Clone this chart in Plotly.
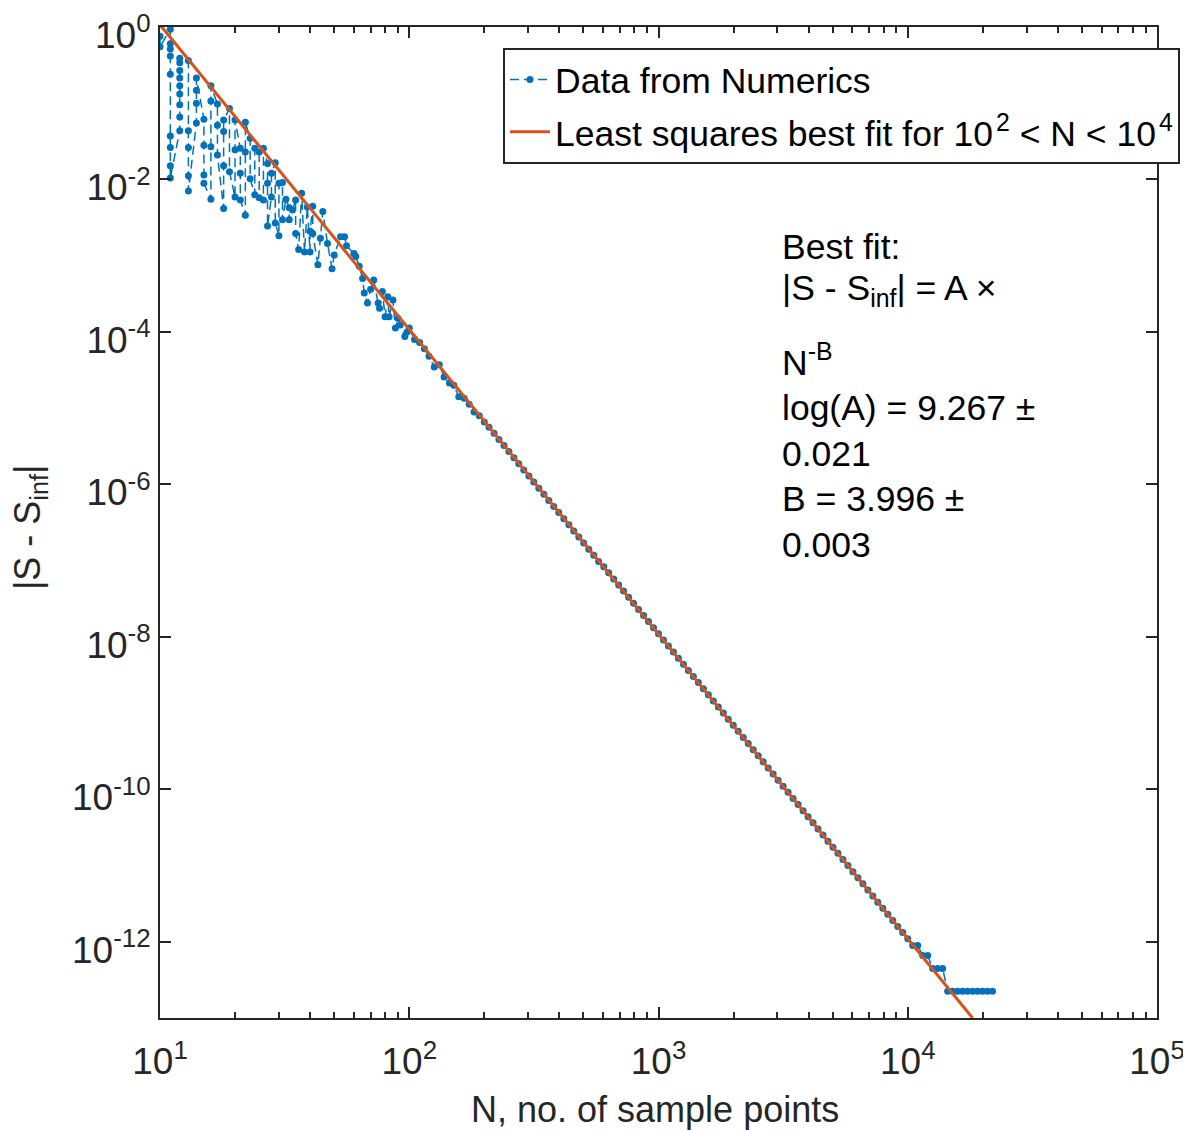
import numpy as np
import plotly.graph_objects as go

# ------------------------------- Data ------------------------------- #
# noisy region, several samples per N (log10 of |S - S_inf|)
n_noisy = [10, 10,
           11, 11, 11, 11, 11, 11, 11, 11, 11,
           12, 12, 12, 12, 12, 12, 12, 12, 12,
           13, 13, 13, 13, 13,
           14, 14, 14, 14,
           15, 15, 15, 15,
           16, 16, 16, 16,
           17, 17, 17,
           18, 18, 18, 18,
           19, 19,
           20, 20, 20,
           21, 21, 21,
           22, 22, 22,
           23, 23, 24, 24, 25, 25, 26, 26,
           27, 27, 27, 28, 28, 29, 29, 30, 30, 31, 31,
           32, 33, 33, 34, 35, 35, 36, 37, 38, 39, 40, 40, 41, 41,
           43, 44, 45, 47, 49, 50, 53, 55, 56, 60, 61, 63, 65, 66, 68,
           70, 72, 75, 76, 78, 80, 82, 83, 86, 88, 90, 92, 96, 98]
log_err_noisy = [-0.12, -0.26,
                 -0.03, -0.22, -0.29, -0.38, -0.62, -1.43, -1.58, -1.82, -1.98,
                 -1.36, -1.18, -1.02, -0.88, -0.77, -0.67, -0.57, -0.47, -0.41,
                 -0.44, -1.36, -1.58, -1.95, -2.15,
                 -1.26, -1.00, -0.83, -0.67,
                 -1.21, -1.55, -1.94, -2.05,
                 -2.26, -1.57, -0.97, -0.77,
                 -1.01, -1.29, -1.68,
                 -2.38, -1.82, -1.37, -1.22,
                 -1.07, -1.90,
                 -2.23, -1.61, -1.22,
                 -1.59, -1.92, -2.27,
                 -2.47, -1.64, -1.25,
                 -1.46, -1.99, -2.20, -1.59, -1.64, -2.24, -2.27, -1.59,
                 -1.79, -2.05, -2.61, -2.23, -1.92, -1.78, -2.57, -2.74, -2.05, -2.04, -2.53,
                 -2.26, -2.37, -2.53, -2.40, -2.27, -2.71, -2.92, -2.18, -2.95, -2.36, -2.95, -2.68, -2.35, -2.71,
                 -3.12, -2.77, -2.42, -2.84, -3.17, -2.99, -2.75, -2.75, -2.87, -2.97, -3.01, -3.14, -3.30, -3.49, -3.62,
                 -3.44, -3.32, -3.62, -3.69, -3.47, -3.80, -3.54, -3.80, -3.58, -3.95, -3.82, -3.91, -4.06, -4.00]

# asymptotic region, close to the N^-4 law
n_asym = [100, 105, 110, 115, 120, 126, 132, 138, 145, 151,
          158, 166, 174, 182, 191, 200, 209, 219, 229, 240,
          251, 263, 275, 288, 302, 316, 331, 347, 363, 380,
          398, 417, 437, 457, 479, 501, 525, 550, 575, 603,
          631, 661, 692, 724, 759, 794, 832, 871, 912, 955,
          1000, 1047, 1096, 1148, 1202, 1259, 1318, 1380, 1445, 1514,
          1585, 1660, 1738, 1820, 1905, 1995, 2089, 2188, 2291, 2399,
          2512, 2630, 2754, 2884, 3020, 3162, 3311, 3467, 3631, 3802,
          3981, 4169, 4365, 4571, 4786, 5012, 5248, 5495, 5754, 6026,
          6310, 6607, 6918, 7244, 7586, 7943, 8318, 8710, 9120, 9550,
          10000, 10471, 10965, 11482, 12023, 12589, 13183, 13804]
log_err_asym = [-3.95, -4.10, -4.14, -4.22, -4.32, -4.46, -4.43, -4.59, -4.67, -4.70,
                -4.85, -4.87, -4.95, -5.05, -5.10, -5.18, -5.25, -5.33, -5.41, -5.49,
                -5.57, -5.65, -5.73, -5.81, -5.89, -5.97, -6.05, -6.13, -6.21, -6.29,
                -6.37, -6.45, -6.53, -6.61, -6.69, -6.77, -6.85, -6.93, -7.01, -7.08,
                -7.16, -7.24, -7.32, -7.40, -7.48, -7.56, -7.64, -7.72, -7.80, -7.88,
                -7.96, -8.04, -8.12, -8.20, -8.28, -8.36, -8.44, -8.52, -8.60, -8.68,
                -8.76, -8.84, -8.92, -9.00, -9.08, -9.16, -9.24, -9.32, -9.40, -9.48,
                -9.56, -9.64, -9.72, -9.80, -9.88, -9.96, -10.04, -10.12, -10.20, -10.28,
                -10.36, -10.44, -10.52, -10.60, -10.68, -10.76, -10.84, -10.92, -11.00, -11.08,
                -11.16, -11.24, -11.32, -11.40, -11.48, -11.56, -11.64, -11.72, -11.80, -11.88,
                -11.96, -12.05, -12.05, -12.18, -12.18, -12.35, -12.35, -12.35]

# round-off floor
n_floor = [14454, 15136, 15849, 16596, 17378, 18197, 19055, 19953, 20893, 21878]
log_err_floor = [-12.65] * 10

# least squares line, drawn from N = 10 down to the bottom of the axes
fit_n = [10, 18200]
fit_err = [1.07, 1.0e-13]

x_ticks = [1e1, 1e2, 1e3, 1e4, 1e5]
x_ticktext = ["10<sup>1</sup>", "10<sup>2</sup>", "10<sup>3</sup>", "10<sup>4</sup>", "10<sup>5</sup>"]
y_ticks = [1e0, 1e-2, 1e-4, 1e-6, 1e-8, 1e-10, 1e-12]
y_ticktext = ["10<sup>0</sup>", "10<sup>-2</sup>", "10<sup>-4</sup>", "10<sup>-6</sup>",
              "10<sup>-8</sup>", "10<sup>-10</sup>", "10<sup>-12</sup>"]

fit_text = [
    "Best fit:",
    "|S - S<sub>inf</sub>| = A ×",
    "N<sup>-B</sup>",
    "log(A) = 9.267 ±",
    "0.021",
    "B = 3.996 ±",
    "0.003",
]
fit_text_y = [247, 290, 360, 408, 454, 499, 545]  # page rows of the text lines

# ----------------------------------------- Figure ----------------------------------------- #
FONT = "Liberation Sans, Arial, sans-serif"
AX = "#262626"
OFF = 8  # the html body margin shifts the figure by 8 px
W, H = 1191 - OFF, 1131 - OFF
# plot box on the page: x 160..1157, y 27..1018
PX0, PX1, PY0, PY1 = 160, 1157, 27, 1018
ML, MR, MT, MB = PX0 - OFF, W - (PX1 - OFF), PY0 - OFF, H - (PY1 - OFF)


def px_x(px):
    return (px - PX0) / (PX1 - PX0)


def px_y(py):
    return (PY1 - py) / (PY1 - PY0)


n_all = n_noisy + n_asym + n_floor
err_all = 10 ** np.array(log_err_noisy + log_err_asym + log_err_floor)

fig = go.Figure()
fig.add_trace(
    go.Scatter(
        x=n_all,
        y=err_all,
        mode="lines+markers",
        name="Data from Numerics",
        legendgroup="data",
        line=dict(color="#0072BD", width=1.5, dash="9px,5px"),
        marker=dict(color="#0072BD", size=7),
    )
)
fig.add_trace(
    go.Scatter(
        x=fit_n,
        y=fit_err,
        mode="lines",
        name="Least squares best fit for 10&#8202;<sup>2</sup> &lt; N &lt; 10&#8202;<sup>4</sup>",
        legendgroup="fit",
        line=dict(color="#D95319", width=3),
    )
)

for txt, py in zip(fit_text, fit_text_y):
    fig.add_annotation(
        text=txt,
        xref="paper",
        yref="paper",
        x=px_x(780),
        y=px_y(py),
        xanchor="left",
        yanchor="middle",
        showarrow=False,
        align="left",
        font=dict(family=FONT, size=35.5, color="black"),
    )

# axis titles
fig.add_annotation(
    text="|S - S<sub>inf</sub>|",
    xref="paper", yref="paper",
    x=px_x(30), y=px_y(528),
    xanchor="center", yanchor="middle",
    textangle=-90, showarrow=False,
    font=dict(family=FONT, size=36, color=AX),
)
fig.add_annotation(
    text="N, no. of sample points",
    xref="paper", yref="paper",
    x=px_x(655), y=px_y(1109),
    xanchor="center", yanchor="middle",
    showarrow=False,
    font=dict(family=FONT, size=36, color=AX),
)

minor_x = [m * 10 ** e for e in range(1, 5) for m in range(2, 10)]

fig.update_xaxes(
    type="log",
    range=[1, 5],
    tickvals=x_ticks,
    ticktext=x_ticktext,
    ticks="inside",
    ticklen=11,
    tickwidth=2,
    tickcolor=AX,
    showline=True,
    linewidth=2,
    linecolor=AX,
    mirror="ticks",
    showgrid=False,
    zeroline=False,
    ticklabelstandoff=10,
    tickfont=dict(family=FONT, size=37, color=AX),
    minor=dict(tickvals=minor_x, ticks="inside", ticklen=6, tickwidth=1.5, tickcolor=AX, showgrid=False),
)
fig.update_yaxes(
    type="log",
    range=[-13, 0],
    tickvals=y_ticks,
    ticktext=y_ticktext,
    ticks="inside",
    ticklen=11,
    tickwidth=2,
    tickcolor=AX,
    showline=True,
    linewidth=2,
    linecolor=AX,
    mirror="ticks",
    showgrid=False,
    zeroline=False,
    ticklabelshift=8,
    tickfont=dict(family=FONT, size=37, color=AX),
)

fig.update_layout(
    width=W,
    height=H,
    margin=dict(l=ML, r=MR, t=MT, b=MB, autoexpand=False),
    paper_bgcolor="white",
    plot_bgcolor="white",
    showlegend=True,
    legend=dict(
        x=px_x(503),
        y=px_y(48),
        xanchor="left",
        yanchor="top",
        bgcolor="white",
        bordercolor=AX,
        borderwidth=2,
        font=dict(family=FONT, size=35.5, color="black"),
        itemwidth=40,
        tracegroupgap=3,
    ),
)

fig.write_html("out.html")
